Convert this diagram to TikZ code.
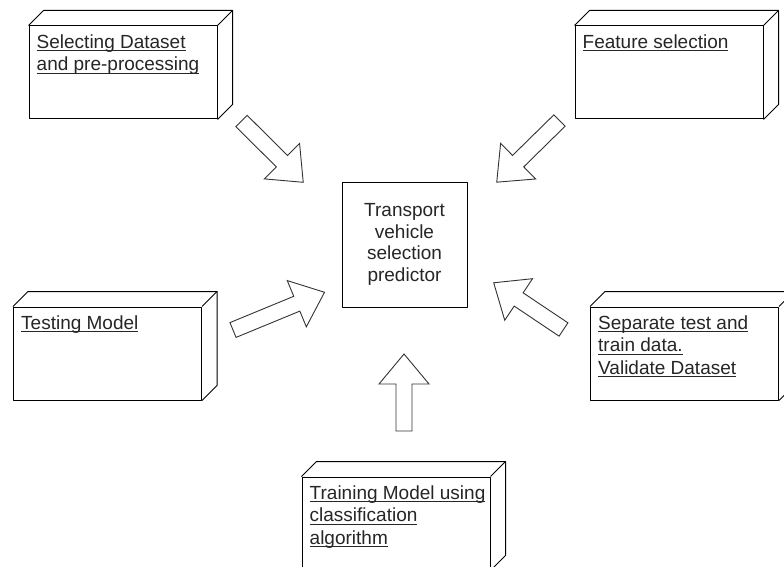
\documentclass[tikz,border=0pt]{standalone}
\usepackage{fontspec}
\setmainfont{Liberation Sans}
\usetikzlibrary{calc}
\newcommand\myul[1]{\setbox0\hbox{#1}\rlap{\rule[-2.8pt]{\wd0}{0.9pt}}\box0}
\newcommand\boxdepth[1]{%
  \draw[boxline] (#1.north west) -- ++(15,15) -- ($(#1.north east)+(15,15)$) -- ($(#1.south east)+(15,15)$) -- (#1.south east);
  \draw[boxline] (#1.north east) -- ++(15,15);}
\begin{document}
\begin{tikzpicture}[x=1pt,y=1pt,
  boxline/.style={line width=1pt, line join=round},
  box/.style={draw, boxline, minimum width=188pt, minimum height=93pt, inner sep=0pt},
  boxtext/.style={anchor=north west, inner sep=0pt, align=left, font=\fontsize{19}{22.5}\selectfont, text=black!85},
  center/.style={draw, boxline, minimum width=125pt, minimum height=125pt, inner sep=0pt, align=center, font=\fontsize{19}{21.5}\selectfont, text=black!85},
  arrowline/.style={draw=black!80, line width=0.9pt, line join=miter, fill=white},
  blockarrow/.pic={\path[arrowline] (0,-8) -- ({#1-30},-8) -- ({#1-30},-25) -- (#1,0) -- ({#1-30},25) -- ({#1-30},8) -- (0,8) -- cycle;}
]
\useasboundingbox (0,0) rectangle (784,-567);
\fill[white] (0,0) rectangle (784,-567);
\clip (0,0) rectangle (784,-567);

% boxes
\node[box] (b1) at (123,-72.5) {};
\boxdepth{b1}
\node[boxtext] (t1) at ($(b1.north west)+(8,-9)$) {\myul{Selecting Dataset}\\\myul{and pre-processing}};

\node[box] (b2) at (669,-72.5) {};
\boxdepth{b2}
\node[boxtext] (t2) at ($(b2.north west)+(8,-9)$) {\myul{Feature selection}};

\node[box] (b3) at (107.5,-353.5) {};
\boxdepth{b3}
\node[boxtext] (t3) at ($(b3.north west)+(8,-9)$) {\myul{Testing Model}};

\node[box] (b4) at (684.5,-353.5) {};
\boxdepth{b4}
\node[boxtext] (t4) at ($(b4.north west)+(8,-9)$) {\myul{Separate test and}\\\myul{train data.}\\\myul{Validate Dataset}};

\node[box] (b5) at (396,-523.5) {};
\boxdepth{b5}
\node[boxtext] (t5) at ($(b5.north west)+(8,-9)$) {\myul{Training Model using}\\\myul{classification}\\\myul{algorithm}};

\node[center] (c) at (404.5,-244.5) {Transport\\vehicle\\selection\\predictor};

% block arrows
\coordinate (aA) at (241.5,-121);
\coordinate (aB) at (559.5,-120.5);
\coordinate (aC) at (233,-330);
\coordinate (aD) at (563.5,-329.5);
\coordinate (aE) at (404,-431);
\pic[rotate=-44.8] at (aA) {blockarrow=87};
\pic[rotate=224.5] at (aB) {blockarrow=88};
\pic[rotate=22.4] at (aC) {blockarrow=99};
\pic[rotate=146.2] at (aD) {blockarrow=84};
\pic[rotate=90] at (aE) {blockarrow=77};
\end{tikzpicture}
\end{document}
